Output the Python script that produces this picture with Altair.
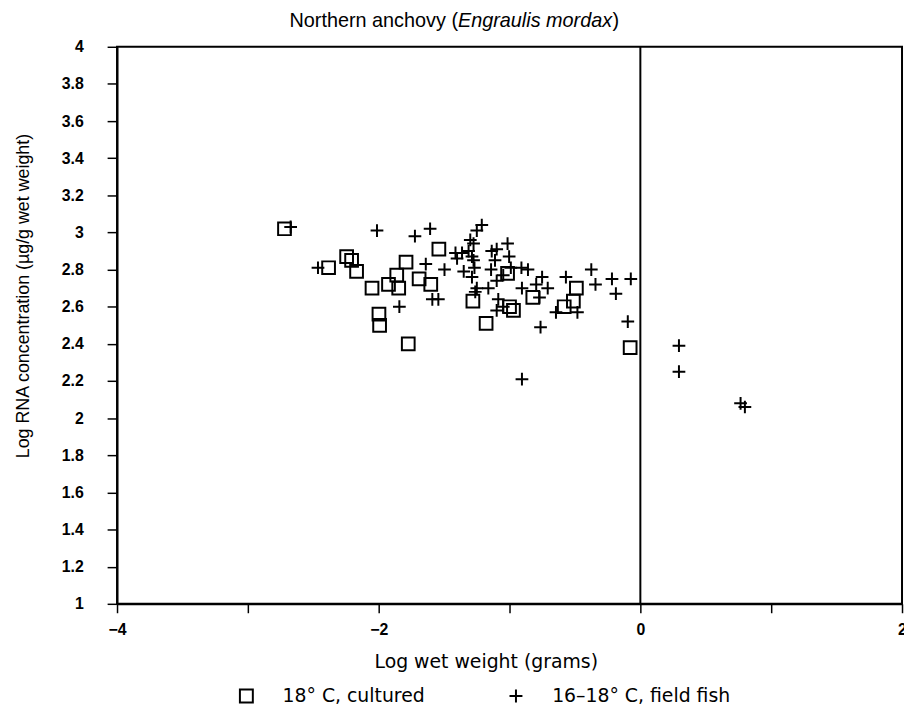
import altair as alt
import pandas as pd

# ---- data ----
cult_label = "18° C, cultured"
field_label = "16–18° C, field fish"

cult_x = [-2.72, -2.245, -2.207, -2.169, -2.383, -2.051, -1.925, -1.862, -1.847, -1.791,
          -1.998, -1.993, -1.774, -1.691, -1.602, -1.54, -1.28, -1.179, -1.015, -1.00,
          -0.97, -0.822, -0.489, -0.512, -0.582, -0.078]
cult_y = [3.02, 2.87, 2.85, 2.79, 2.81, 2.70, 2.72, 2.77, 2.70, 2.84,
          2.56, 2.50, 2.40, 2.75, 2.72, 2.91, 2.63, 2.51, 2.78, 2.60,
          2.58, 2.65, 2.70, 2.63, 2.60, 2.38]

field_x = [-2.673, -2.464, -2.013, -1.723, -1.607, -1.64, -1.842, -1.59, -1.544, -1.497,
           -1.413, -1.401, -1.363, -1.313, -1.30, -1.275, -1.287, -1.275, -1.25, -1.212,
           -1.35, -1.268, -1.287, -1.25, -1.262, -1.162, -1.136, -1.098, -1.015, -1.111,
           -1.003, -1.141, -1.098, -1.048, -0.99, -1.086, -1.098, -1.048, -0.909, -0.859,
           -0.905, -0.796, -0.751, -0.708, -0.771, -0.763, -0.905, -0.569, -0.645, -0.481,
           -0.375, -0.343, -0.217, -0.187, -0.073, -0.096, 0.295, 0.295, 0.766, 0.799]
field_y = [3.03, 2.81, 3.01, 2.98, 3.02, 2.83, 2.60, 2.64, 2.64, 2.80,
           2.89, 2.86, 2.89, 2.90, 2.96, 2.94, 2.87, 2.85, 3.01, 3.04,
           2.79, 2.81, 2.76, 2.70, 2.68, 2.70, 2.90, 2.91, 2.94, 2.85,
           2.87, 2.80, 2.74, 2.77, 2.81, 2.64, 2.58, 2.60, 2.81, 2.80,
           2.70, 2.72, 2.76, 2.70, 2.65, 2.49, 2.21, 2.76, 2.57, 2.57,
           2.80, 2.72, 2.75, 2.67, 2.75, 2.52, 2.39, 2.25, 2.08, 2.06]

x_ticks = [-4, -3, -2, -1, 0, 1, 2]
y_ticks = [1.0, 1.2, 1.4, 1.6, 1.8, 2.0, 2.2, 2.4, 2.6, 2.8, 3.0, 3.2, 3.4, 3.6, 3.8, 4.0]
ref_x = [0]

title_main = "Northern anchovy ("
title_italic = "Engraulis mordax"
title_close = ")"
x_title = "Log wet weight (grams)"
y_title = "Log RNA concentration (µg/g wet weight)"

df = pd.DataFrame({
    "w": cult_x + field_x,
    "rna": cult_y + field_y,
    "group": [cult_label] * len(cult_x) + [field_label] * len(field_x),
})

W, H = 792, 562
TICKFONT = "Liberation Sans, Arial, sans-serif"
FONT = "Liberation Sans, Arial, sans-serif"
WIDEFONT = "DejaVu Sans, sans-serif"

xscale = alt.Scale(domain=[-4, 2], nice=False, zero=False)
yscale = alt.Scale(domain=[1, 4], nice=False, zero=False)

points = alt.Chart(df).mark_point(filled=False, strokeWidth=2, opacity=1, color="black").encode(
    x=alt.X("w:Q", scale=xscale, axis=alt.Axis(
        values=x_ticks, format="~g", labelExpr="datum.value % 2 == 0 ? datum.label : ''",
        title=x_title, titleX=372, titleY=58, titleAlign="center", titleBaseline="middle",
        titleFont=WIDEFONT, titleFontSize=19, titleFontWeight="normal", titleColor="black",
        labelFont=TICKFONT, labelFontSize=16, labelFontWeight="bold", labelColor="black",
        labelPadding=9, tickSize=9, grid=False, labelFlush=False)),
    y=alt.Y("rna:Q", scale=yscale, axis=alt.Axis(
        values=y_ticks, format="~g",
        title=y_title, titleX=-94, titleY=251, titleAlign="center", titleBaseline="middle",
        titleAngle=270,
        titleFont=FONT, titleFontSize=18, titleFontWeight="normal", titleColor="black",
        labelFont=TICKFONT, labelFontSize=16, labelFontWeight="bold", labelColor="black",
        labelPadding=24, tickSize=10, grid=False, labelFlush=False)),
    shape=alt.Shape("group:N", scale=alt.Scale(
        domain=[cult_label, field_label],
        range=["square", "M-1,0H1M0,-1V1"]),
        legend=alt.Legend(title=None, orient="none", legendX=121, legendY=645,
                          direction="horizontal", labelFont=WIDEFONT, labelFontSize=19,
                          labelColor="black", symbolSize=170, symbolStrokeWidth=2,
                          symbolStrokeColor="black", symbolFillColor="transparent",
                          labelOffset=27, columnPadding=80, labelLimit=400)),
    size=alt.value(165),
)

rule = alt.Chart(pd.DataFrame({"x0": ref_x})).mark_rule(color="black", strokeWidth=2).encode(
    x=alt.X("x0:Q", scale=xscale)
)

TY = -26
t1 = alt.Chart(pd.DataFrame({"t": [title_main]})).mark_text(
    align="right", baseline="middle", font=FONT, fontSize=20, color="black"
).encode(x=alt.value(344), y=alt.value(TY), text="t:N")
t2 = alt.Chart(pd.DataFrame({"t": [title_italic]})).mark_text(
    align="left", baseline="middle", font=FONT, fontSize=20, fontStyle="italic", color="black"
).encode(x=alt.value(344), y=alt.value(TY), text="t:N")
t3 = alt.Chart(pd.DataFrame({"t": [title_close]})).mark_text(
    align="left", baseline="middle", font=FONT, fontSize=20, color="black"
).encode(x=alt.value(500), y=alt.value(TY), text="t:N")

chart = alt.layer(rule, points, t1, t2, t3).properties(
    width=W, height=H,
    autosize=alt.AutoSizeParams(type="none"),
    padding={"left": 110, "top": 36, "right": 2, "bottom": 105},
    background="white",
).configure_view(
    stroke="black", strokeWidth=2
).configure_axis(
    domainColor="black", domainWidth=2, tickColor="black", tickWidth=1.5
)

chart.save("out.html", embed_options={"renderer": "svg", "actions": False})
